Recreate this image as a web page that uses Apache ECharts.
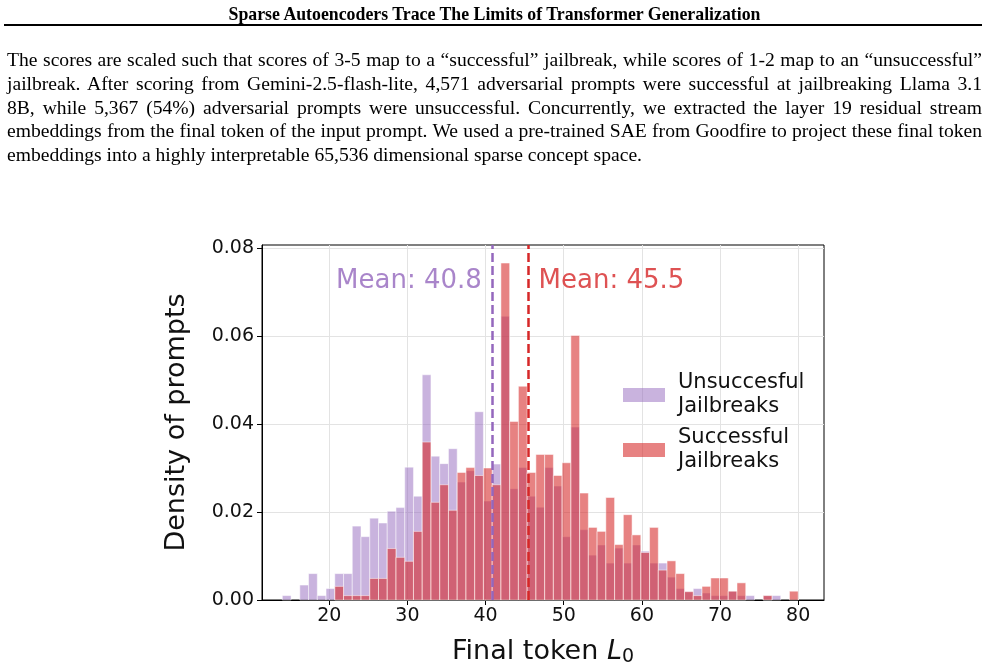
<!DOCTYPE html>
<html>
<head>
<meta charset="utf-8">
<script src="https://cdn.jsdelivr.net/npm/echarts@6/dist/echarts.min.js"></script>
<style>
  html, body { margin: 0; padding: 0; background: #fff; }
  #page { position: relative; width: 989px; height: 672px; overflow: hidden; }
  #chart { position: absolute; left: 0; top: 0; width: 989px; height: 672px; }
  #head { position: absolute; left: 0; top: 4px; width: 989px; text-align: center;
    font: bold 17.8px "Liberation Serif"; line-height: 20px; color: #000; z-index: 2; }
  #rule { position: absolute; left: 4px; top: 24px; width: 978px; height: 2px; background: #000; z-index: 2; }
  #para { position: absolute; left: 7px; top: 48px; width: 975px; font: 19.6px "Liberation Serif";
    line-height: 23.8px; color: #000; z-index: 2; }
  #para .j { text-align: justify; text-align-last: justify; }
</style>
</head>
<body>
<div id="page">
  <div id="chart"></div>
  <div id="head">Sparse Autoencoders Trace The Limits of Transformer Generalization</div>
  <div id="rule"></div>
  <div id="para">
    <div class="j">The scores are scaled such that scores of 3-5 map to a “successful” jailbreak, while scores of 1-2 map to an “unsuccessful”</div>
    <div class="j">jailbreak. After scoring from Gemini-2.5-flash-lite, 4,571 adversarial prompts were successful at jailbreaking Llama 3.1</div>
    <div class="j">8B, while 5,367 (54%) adversarial prompts were unsuccessful. Concurrently, we extracted the layer 19 residual stream</div>
    <div class="j">embeddings from the final token of the input prompt. We used a pre-trained SAE from Goodfire to project these final token</div>
    <div>embeddings into a highly interpretable 65,536 dimensional sparse concept space.</div>
  </div>
</div>
<script>
// histogram bins (shared by both groups)
var binStart = 14;
var binEnd = 80;
var binCount = 59;

// density per bin
var unsuccessfulDensity = [
  0.0010, 0, 0.0034, 0.0060, 0.0010, 0.0026, 0.0060, 0.0060, 0.0168, 0.0144,
  0.0186, 0.0175, 0.0202, 0.0210, 0.0302, 0.0236, 0.0512, 0.0327, 0.0310, 0.0344,
  0.0268, 0.0294, 0.0428, 0.0225, 0.0309, 0.0645, 0.0253, 0.0301, 0.0236, 0.0211,
  0.0301, 0.0259, 0.0144, 0.0393, 0.0160, 0.0102, 0.0125, 0.0084, 0.0118, 0.0084,
  0.0125, 0.0111, 0.0084, 0.0084, 0.0052, 0.0026, 0.0019, 0.0026, 0.0016, 0.0010,
  0.0010, 0.0020, 0.0010, 0.0010, 0, 0.0010, 0.0010, 0, 0
];
var successfulDensity = [
  0, 0, 0, 0, 0, 0, 0.0031, 0.0010, 0.0010, 0.0010,
  0.0049, 0.0049, 0.0117, 0.0097, 0.0088, 0.0156, 0.0359, 0.0222, 0.0262, 0.0204,
  0.0290, 0.0301, 0.0283, 0.0300, 0.0262, 0.0766, 0.0406, 0.0486, 0.0290, 0.0331,
  0.0331, 0.0283, 0.0312, 0.0601, 0.0243, 0.0165, 0.0156, 0.0233, 0.0126, 0.0194,
  0.0148, 0.0108, 0.0165, 0.0068, 0.0089, 0.0060, 0.0019, 0.0010, 0.0031, 0.0050,
  0.0050, 0.0020, 0.0039, 0, 0, 0.0010, 0, 0, 0.0020
];

var meanUnsuccessful = 40.8;
var meanSuccessful = 45.5;
var meanLabelY = 0.0724;

var seriesNames = ['Unsuccesful\nJailbreaks', 'Successful\nJailbreaks'];
var xTicks = [20, 30, 40, 50, 60, 70, 80];
var yTicks = [0, 0.02, 0.04, 0.06, 0.08];

var font = 'DejaVu Sans';
var purple = '#9467bd';
var red = '#d62728';

// [left edge, right edge, density] for each bin
function histData(values) {
  var w = (binEnd - binStart) / binCount;
  var res = [];
  for (var i = 0; i < values.length; i++) {
    res.push([binStart + i * w, binStart + (i + 1) * w, values[i]]);
  }
  return res;
}

function renderBar(params, api) {
  var h = api.value(2);
  if (!h) return null;
  var p0 = api.coord([api.value(0), h]);
  var p1 = api.coord([api.value(1), 0]);
  return {
    type: 'rect',
    shape: { x: p0[0], y: p0[1], width: p1[0] - p0[0], height: p1[1] - p0[1] },
    style: api.style({ stroke: 'rgba(255,255,255,0.7)', lineWidth: 0.7 })
  };
}

function meanSeries(mean, color, side) {
  return {
    type: 'scatter',
    symbolSize: 0,
    silent: true,
    z: 5,
    data: [[mean, meanLabelY]],
    label: {
      show: true,
      position: side,
      distance: 10,
      formatter: 'Mean: ' + mean,
      fontFamily: font,
      fontSize: 26,
      color: color
    },
    markLine: {
      silent: true,
      symbol: 'none',
      label: { show: false },
      lineStyle: { color: color, width: 2.5, type: [9, 4] },
      data: [{ xAxis: mean }]
    }
  };
}

var myChart = echarts.init(document.getElementById('chart'));

var option = {
  animation: false,
  grid: {
    left: 262, top: 245, width: 562, bottom: 71.5,
    show: true, borderColor: '#000', borderWidth: 1
  },
  legend: {
    orient: 'vertical',
    left: 618,
    top: 366,
    itemWidth: 42,
    itemHeight: 14,
    itemGap: 7,
    icon: 'rect',
    data: seriesNames,
    textStyle: { fontFamily: font, fontSize: 21, lineHeight: 24, color: '#111', padding: [0, 0, 0, 8] }
  },
  xAxis: {
    type: 'value',
    min: 11.4,
    max: 83.3,
    name: 'Final token {it|L}{sub|0}',
    nameLocation: 'middle',
    nameGap: 36,
    nameTextStyle: {
      fontFamily: font, fontSize: 27, color: '#111',
      rich: {
        it: { fontFamily: font, fontSize: 27, fontStyle: 'italic', color: '#111' },
        sub: { fontFamily: font, fontSize: 19, color: '#111', padding: [12, 0, 0, 0] }
      }
    },
    axisLine: { onZero: false, lineStyle: { color: '#000', width: 1 } },
    axisTick: { show: true, length: 5, customValues: xTicks, lineStyle: { color: '#000' } },
    axisLabel: {
      fontFamily: font, fontSize: 19, color: '#111', margin: 7,
      formatter: function (v) { return v % 10 === 0 ? String(v) : ''; }
    },
    splitLine: { show: true, lineStyle: { color: '#e3e3e3', width: 1 } }
  },
  yAxis: {
    type: 'value',
    min: 0,
    max: 0.0807,
    interval: 0.02,
    name: 'Density of prompts',
    nameLocation: 'middle',
    nameGap: 72,
    nameTextStyle: { fontFamily: font, fontSize: 27, color: '#111' },
    axisLine: { show: true, lineStyle: { color: '#000', width: 1 } },
    axisTick: { show: true, length: 5, customValues: yTicks, lineStyle: { color: '#000' } },
    axisLabel: {
      fontFamily: font, fontSize: 19, color: '#111', margin: 8,
      formatter: function (v) {
        for (var i = 0; i < yTicks.length; i++) {
          if (Math.abs(v - yTicks[i]) < 1e-9) return v.toFixed(2);
        }
        return '';
      }
    },
    splitLine: { show: true, lineStyle: { color: '#e3e3e3', width: 1 } }
  },
  series: [
    {
      name: seriesNames[0],
      type: 'custom',
      renderItem: renderBar,
      encode: { x: [0, 1], y: 2 },
      itemStyle: { color: 'rgba(148,103,189,0.5)' },
      data: histData(unsuccessfulDensity),
      z: 2
    },
    {
      name: seriesNames[1],
      type: 'custom',
      renderItem: renderBar,
      encode: { x: [0, 1], y: 2 },
      itemStyle: { color: 'rgba(214,39,40,0.58)' },
      data: histData(successfulDensity),
      z: 3
    },
    meanSeries(meanUnsuccessful, purple, 'left'),
    meanSeries(meanSuccessful, red, 'right')
  ]
};
myChart.setOption(option);
</script>
</body>
</html>
